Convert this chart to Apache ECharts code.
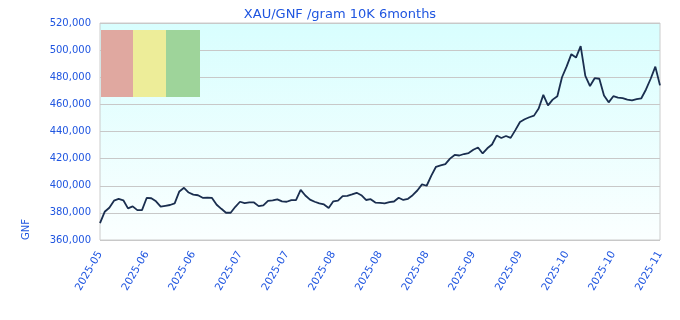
<!DOCTYPE html>
<html>
<head>
<meta charset="utf-8">
<script src="https://cdn.jsdelivr.net/npm/echarts@6/dist/echarts.min.js"></script>
<style>
  html, body { margin: 0; padding: 0; background: #fff; }
  #chart { width: 680px; height: 320px; }
</style>
</head>
<body>
<div id="chart"></div>
<script>
// tick labels shown under the x axis (one every 10 points)
var tickLabels = ['2025-05', '2025-06', '2025-06', '2025-07', '2025-07', '2025-08', '2025-08',
  '2025-08', '2025-09', '2025-09', '2025-10', '2025-10', '2025-11'];

// price in GNF per gram
var prices = [
  372500, 380800, 383800, 389000, 390300, 389300, 383300, 384800, 382000, 382000,
  391000, 390800, 388500, 384600, 385200, 385800, 387000, 395800, 398500, 395000,
  393500, 393000, 391100, 391300, 391000, 386000, 383000, 380100, 380100, 384500,
  388200, 387200, 387700, 387700, 385000, 385500, 388900, 389200, 390000, 388500,
  388200, 389400, 389400, 397000, 392800, 389800, 388200, 387000, 386200, 383600,
  388500, 389000, 392400, 392600, 393600, 394800, 393000, 389500, 390100, 387600,
  387400, 387000, 388000, 388400, 391200, 389500, 390400, 393000, 396500, 401000,
  400000, 407500, 414000, 415000, 416000, 420000, 422700, 422300, 423400, 424100,
  426500, 428200, 423800, 427600, 430400, 437000, 435200, 436700, 435300, 441000,
  447000, 449000, 450500, 451700, 457000, 467000, 459300, 463500, 466000, 480000,
  488000, 497000, 494500, 503000, 481000, 473500, 479300, 478900, 466600, 461500,
  466000, 465000, 464600, 463500, 462900, 463800, 464500, 471000, 478900, 487800,
  474000
];

var blue = '#1f55e0';
var chart = echarts.init(document.getElementById('chart'));

chart.setOption({
  animation: false,
  title: {
    text: 'XAU/GNF /gram 10K 6months',
    left: 'center',
    top: 3,
    textStyle: { color: blue, fontSize: 13, fontWeight: 'normal', fontFamily: 'DejaVu Sans' }
  },
  grid: {
    left: 100,
    right: 20,
    top: 23,
    bottom: 80,
    show: true,
    borderColor: '#cccccc',
    borderWidth: 1,
    backgroundColor: new echarts.graphic.LinearGradient(0, 0, 0, 1, [
      { offset: 0, color: '#d8fefe' },
      { offset: 1, color: '#fbffff' }
    ])
  },
  xAxis: {
    type: 'category',
    boundaryGap: false,
    data: prices.map(function (v, i) { return i; }),
    axisLine: { show: false },
    axisTick: { show: false },
    splitLine: { show: false },
    axisLabel: {
      interval: 9,
      rotate: 60,
      margin: 12,
      color: blue,
      fontSize: 10.5,
      fontFamily: 'DejaVu Sans',
      formatter: function (v) { return tickLabels[Math.round(v / 10)]; }
    }
  },
  yAxis: {
    type: 'value',
    min: 360000,
    max: 520000,
    interval: 20000,
    axisLine: { show: false },
    axisTick: { show: false },
    splitLine: { lineStyle: { color: '#c8c8c8', width: 1 } },
    axisLabel: { color: blue, fontSize: 10, fontFamily: 'DejaVu Sans', margin: 9 }
  },
  graphic: [
    // colour boxes in the top left corner
    { type: 'rect', left: 101, top: 30, shape: { width: 32, height: 67 }, style: { fill: '#e0a8a0' }, z: 1 },
    { type: 'rect', left: 133, top: 30, shape: { width: 33, height: 67 }, style: { fill: '#eded99' }, z: 1 },
    { type: 'rect', left: 166, top: 30, shape: { width: 34, height: 67 }, style: { fill: '#9ed49a' }, z: 1 },
    // y axis name
    {
      type: 'text',
      x: 21, y: 240,
      rotation: Math.PI / 2,
      style: { text: 'GNF', fill: blue, font: '10px "DejaVu Sans"' }
    }
  ],
  series: [
    {
      type: 'line',
      data: prices,
      symbol: 'none',
      smooth: false,
      lineStyle: { color: '#1a2e4f', width: 1.8 },
      z: 3
    }
  ]
});
</script>
</body>
</html>
